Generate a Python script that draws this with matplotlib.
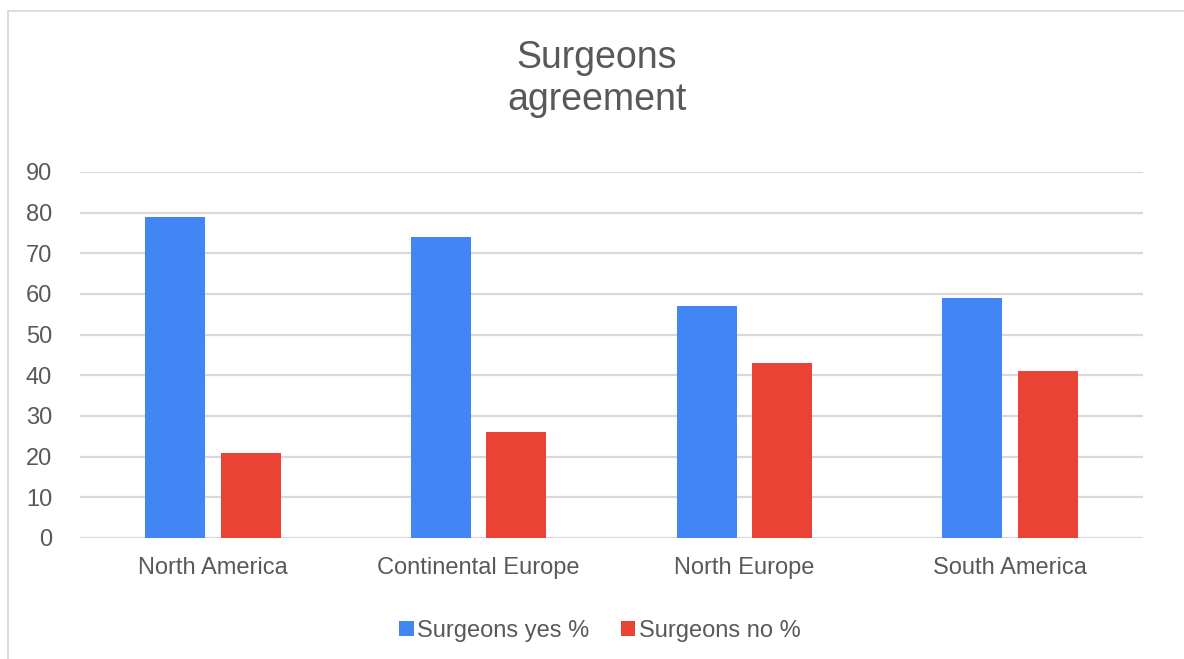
import matplotlib
matplotlib.use("Agg")
import matplotlib.pyplot as plt
import numpy as np
from matplotlib import font_manager
from matplotlib.patches import Rectangle

categories = ["North America", "Continental Europe", "North Europe", "South America"]
yes_pct = [79, 74, 57, 59]
no_pct = [21, 26, 43, 41]
series_names = ["Surgeons yes %", "Surgeons no %"]
title = "Surgeons\nagreement"

names = {f.name for f in font_manager.fontManager.ttflist}
base_font = "Liberation Sans" if "Liberation Sans" in names else "DejaVu Sans"
title_font = "Liberation Sans Narrow" if "Liberation Sans Narrow" in names else base_font
plt.rcParams["font.family"] = [base_font, "DejaVu Sans"]

W, H = 1184, 659
fig = plt.figure(figsize=(W / 100, H / 100), dpi=100)
fig.patch.set_facecolor("white")

# outer chart border (cropped at right/bottom)
fig.add_artist(Rectangle((8 / W, -0.05), 1.2, 1 - 11 / H + 0.05, transform=fig.transFigure,
                         fill=False, edgecolor="#d9d9d9", linewidth=1.3))

ax = fig.add_axes([80 / W, 1 - 538 / H, (1143 - 80) / W, (538 - 172) / H])
x = np.arange(len(categories))
w = 0.225
off = 0.142
ax.bar(x - off, yes_pct, w, color="#4285f4", label=series_names[0], zorder=3)
ax.bar(x + off, no_pct, w, color="#ea4335", label=series_names[1], zorder=3)

ax.set_xlim(-0.5, len(categories) - 0.5)
ax.set_ylim(0, 90)
ax.set_yticks(range(0, 91, 10))
ax.set_xticks(x)
ax.set_xticklabels(categories)
ax.yaxis.grid(True, color="#d9d9d9", linewidth=1.6, zorder=0)
ax.set_axisbelow(True)
for s in ax.spines.values():
    s.set_visible(False)
ax.tick_params(axis="both", length=0, labelsize=17, colors="#595959")
ax.tick_params(axis="y", pad=20)
ax.tick_params(axis="x", pad=14)

fig.text(597 / W, 1 - 79 / H, title, ha="center", va="center", fontsize=27,
         color="#595959", family=[title_font, "DejaVu Sans"], linespacing=1.2)

leg = fig.legend(loc="center", bbox_to_anchor=(600 / W, 1 - 631 / H), ncol=2, frameon=False,
                 fontsize=17, handlelength=0.6, handleheight=0.6, handletextpad=0.15,
                 columnspacing=1.35, labelcolor="#595959")

fig.savefig("out.png", dpi=100, facecolor="white")
